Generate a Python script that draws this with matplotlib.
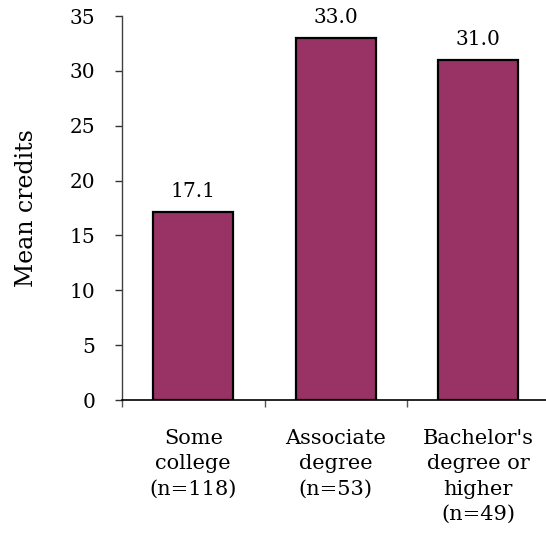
import matplotlib
matplotlib.use("Agg")
import matplotlib.pyplot as plt

categories = ["Some\ncollege\n(n=118)", "Associate\ndegree\n(n=53)", "Bachelor's\ndegree or\nhigher\n(n=49)"]
mean_credits = [17.1, 33.0, 31.0]
y_ticks = [0, 5, 10, 15, 20, 25, 30, 35]

plt.rcParams["font.family"] = ["DejaVu Serif"]

fig = plt.figure(figsize=(5.46, 5.33), dpi=100)
ax = fig.add_axes([122 / 546, 133 / 533, 424 / 546, 384 / 533])

x = list(range(len(categories)))
ax.bar(x, mean_credits, width=0.56, color="#993366", edgecolor="black", linewidth=1.6, zorder=3)

for xi, v in zip(x, mean_credits):
    ax.annotate(f"{v:.1f}", (xi, v), xytext=(0, 8), textcoords="offset points",
                ha="center", va="bottom", fontsize=14.5)

ax.set_xlim(-0.5, 2.475)
ax.set_ylim(0, 35)
ax.set_yticks(y_ticks)
ax.set_yticklabels([str(t) for t in y_ticks], fontsize=14.5)

ax.set_xticks([-0.5, 0.5, 1.5])
ax.set_xticklabels([])
ax.set_xticks(x, minor=True)
ax.set_xticklabels(categories, minor=True, fontsize=15, linespacing=1.42, va="top")
ax.tick_params(axis="x", which="minor", length=0, pad=21)
ax.tick_params(axis="x", which="major", length=5, width=1, color="#555555", direction="out")
ax.tick_params(axis="y", length=5, width=1, color="#333333", direction="out", pad=14)

for side in ("top", "right"):
    ax.spines[side].set_visible(False)
ax.spines["left"].set_color("#404040")
ax.spines["left"].set_linewidth(1.0)
ax.spines["bottom"].set_color("black")
ax.spines["bottom"].set_linewidth(1.2)

ax.set_ylabel("Mean credits", fontsize=17, labelpad=23)

fig.savefig("out.png", dpi=100)
